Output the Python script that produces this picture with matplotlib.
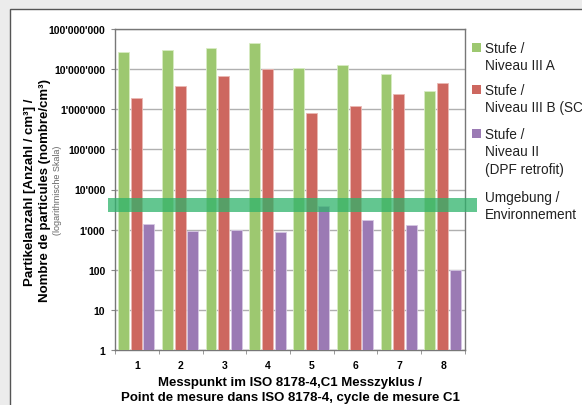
import matplotlib.pyplot as plt
import matplotlib.patches as mpatches
import matplotlib.ticker as mticker
import numpy as np

# data (particles / cm3, log scale)
points = [1, 2, 3, 4, 5, 6, 7, 8]
stage_3a = [2.6e7, 3.0e7, 3.4e7, 4.5e7, 1.07e7, 1.26e7, 7.5e6, 2.9e6]
stage_3b = [1.9e6, 3.7e6, 6.7e6, 1.0e7, 8.0e5, 1.2e6, 2.4e6, 4.6e6]
stage_2 = [1400, 950, 1000, 880, 3800, 1750, 1330, 100]
ambient_range = (2800, 6000)

y_ticks = [1, 10, 100, 1e3, 1e4, 1e5, 1e6, 1e7, 1e8]
y_labels = ["1", "10", "100", "1'000", "10'000", "100'000", "1'000'000",
            "10'000'000", "100'000'000"]

legend_labels = ["Stufe /\nNiveau III A", "Stufe /\nNiveau III B (SCR)",
                 "Stufe /\nNiveau II\n(DPF retrofit)", "Umgebung /\nEnvironnement"]

GREEN = '#9dc870'
RED = '#cd675f'
PURPLE = '#9b7ab4'
BAND = '#2fb36b'

plt.rcParams['font.family'] = ['Liberation Sans', 'DejaVu Sans']

W, H = 582, 406
fig = plt.figure(figsize=(W / 100, H / 100), dpi=100, facecolor='#ececec')

# white panel with border
fig.patches.append(mpatches.Rectangle((10 / W, -0.1), 1.2, 1 - 10 / H + 0.1,
                                      transform=fig.transFigure, facecolor='white',
                                      edgecolor='#555555', linewidth=1, zorder=-5))

ax = fig.add_axes([115 / W, 1 - 351 / H, 350 / W, 321 / H])
ax.set_zorder(2)
ax.set_yscale('log')
ax.set_ylim(1, 1e8)
ax.set_xlim(0.5, 8.5)

x = np.array(points)
w = 0.25
off = 0.285
ax.bar(x - off - 0.02, stage_3a, w, color=GREEN, edgecolor='#d8ecc4', linewidth=0.6, zorder=3)
ax.bar(x - 0.01, stage_3b, w, color=RED, edgecolor='#eab8b3', linewidth=0.6, zorder=3)
ax.bar(x + off - 0.01, stage_2, w, color=PURPLE, edgecolor='#d6c7e3', linewidth=0.6, zorder=3)

# ambient band drawn over the bars, reaching slightly past the axes
ax.axhspan(ambient_range[0], ambient_range[1], xmin=-7 / 350, xmax=1 + 12 / 350,
           color=BAND, alpha=0.75, linewidth=0, zorder=5, clip_on=False)

ax.set_yticks(y_ticks)
ax.set_yticklabels(y_labels, fontsize=7.5, fontweight='bold')
ax.yaxis.set_minor_locator(mticker.NullLocator())
ax.tick_params(axis='y', length=3, color='#888888', pad=4)
ax.grid(axis='y', color='#b0b0b0', linewidth=1, zorder=1)

ax.set_xticks(points)
ax.set_xticklabels([str(p) for p in points], fontsize=7.5, fontweight='bold')
ax.set_xticks(np.arange(0.5, 9, 1), minor=True)
ax.tick_params(axis='x', which='major', length=0, pad=7)
ax.tick_params(axis='x', which='minor', length=3, color='#888888')

for s in ax.spines.values():
    s.set_color('#777777')
    s.set_linewidth(1)

# axis titles
fig.text(30 / W, 1 - 192 / H, "Partikelanzahl [Anzahl / cm³] /", rotation=90,
         ha='center', va='center', fontsize=9.5, fontweight='bold')
fig.text(45 / W, 1 - 190 / H, "Nombre de particules (nombre/cm³)", rotation=90,
         ha='center', va='center', fontsize=9.5, fontweight='bold')
fig.text(57 / W, 1 - 190 / H, "(logarithmische Skala)", rotation=90,
         ha='center', va='center', fontsize=6.5, color='#666666')
fig.text(290 / W, 1 - 383 / H, "Messpunkt im ISO 8178-4,C1 Messzyklus /",
         ha='center', va='center', fontsize=9.5, fontweight='bold')
fig.text(290 / W, 1 - 398 / H, "Point de mesure dans ISO 8178-4, cycle de mesure C1",
         ha='center', va='center', fontsize=9.5, fontweight='bold')

# legend drawn by hand so it runs off the right edge like the original
leg_colors = [GREEN, RED, PURPLE, None]
leg_tops = [42, 84, 128, 191]
for lab, col, top in zip(legend_labels, leg_colors, leg_tops):
    if col is not None:
        fig.patches.append(mpatches.Rectangle((472 / W, 1 - (top + 11) / H), 9 / W, 9 / H,
                                              transform=fig.transFigure, facecolor=col,
                                              edgecolor='none'))
    fig.text(485 / W, 1 - top / H, lab, ha='left', va='top', fontsize=9.8,
             linespacing=1.3, color='#222222')

fig.savefig('out.png', dpi=100, facecolor=fig.get_facecolor())
